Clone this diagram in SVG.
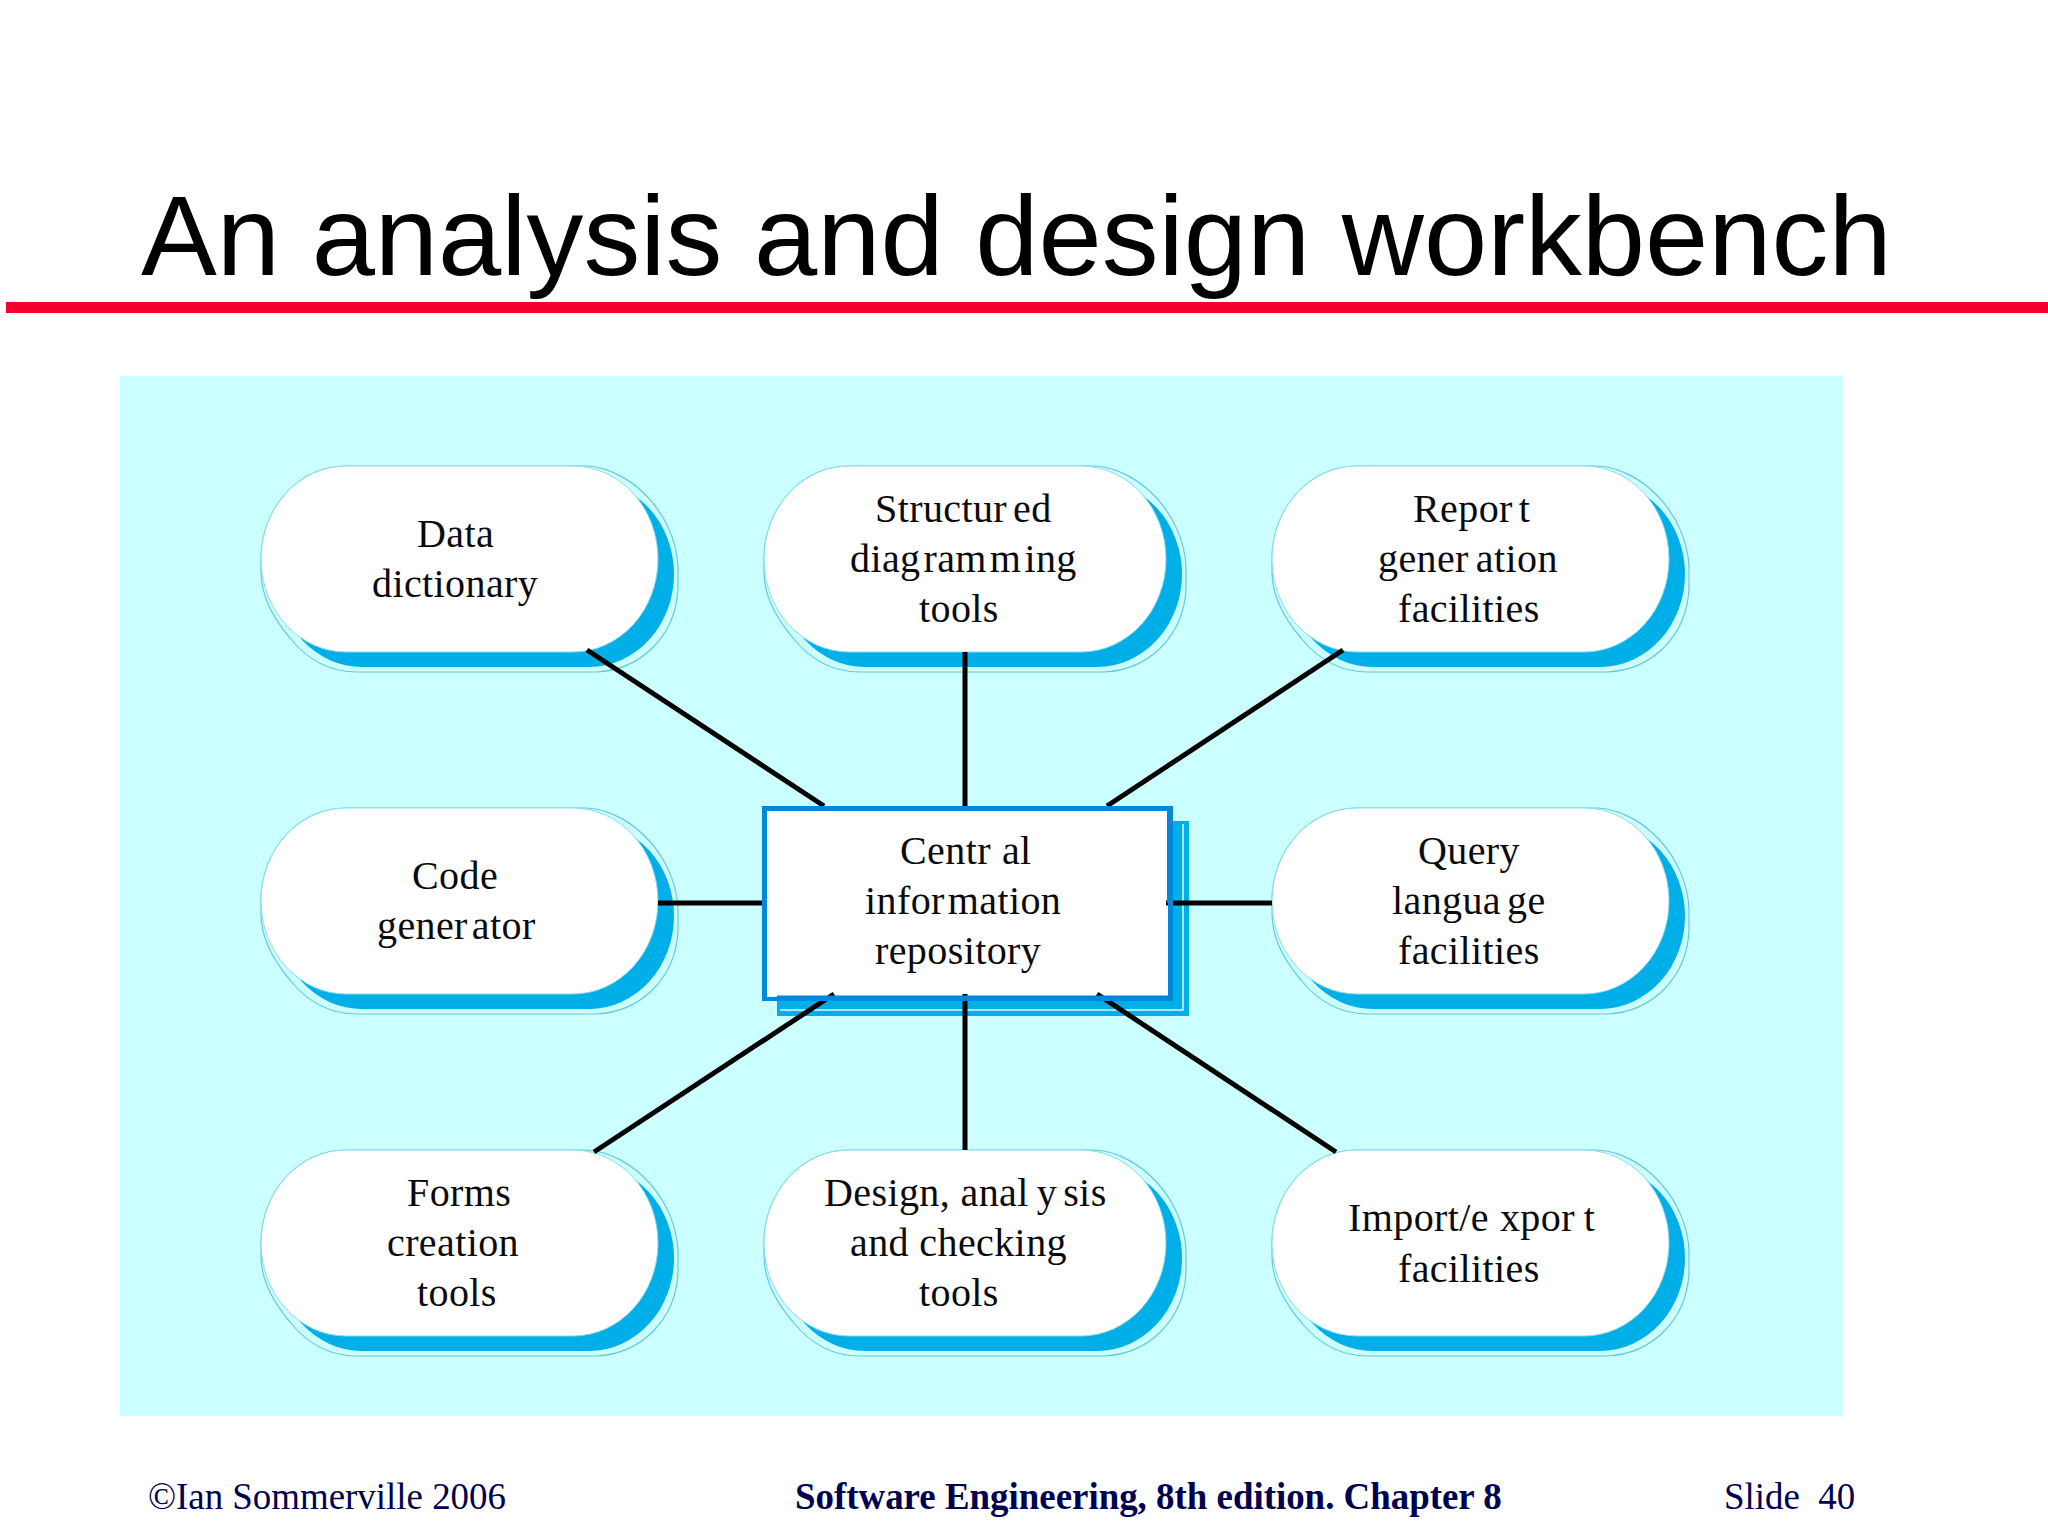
<svg xmlns="http://www.w3.org/2000/svg" xmlns:xlink="http://www.w3.org/1999/xlink" width="2048" height="1536" viewBox="0 0 2048 1536">
<style>
.t{font-family:"Liberation Serif","Times New Roman",serif;font-size:40px;letter-spacing:.4px;fill:#0a0a0a}
.title{font-family:"Liberation Sans",Arial,sans-serif;font-size:113.7px;fill:#000}
.foot{font-family:"Liberation Serif","Times New Roman",serif;font-size:36.9px;fill:#000050}
.hull{fill:#ccffff;stroke:#66c8e0;stroke-width:1.2}
.sh{fill:#00aee8}
.wh{fill:#fff;stroke:#8adcec;stroke-width:1}
.conn{stroke:#000;stroke-width:5;fill:none}
</style>
<defs>
<g id="pillA">
<path class="hull" d="M85,0H326C372,3 415,50 417,101V122C415,170 380,204 335,206H96C66,206 45,192 29,172C12,152 0,130 0,106V93C0,42 38,0 85,0Z"/>
<rect class="sh" x="16" y="15" width="397" height="186" rx="85" ry="93"/>
<rect class="wh" x="0" y="0" width="397" height="186" rx="85" ry="93"/>
</g>
<g id="pillB">
<path class="hull" d="M85,0H331C377,3 420,50 422,101V122C420,170 385,204 340,206H96C66,206 45,192 29,172C12,152 0,130 0,106V93C0,42 38,0 85,0Z"/>
<rect class="sh" x="16" y="15" width="402" height="186" rx="85" ry="93"/>
<rect class="wh" x="0" y="0" width="402" height="186" rx="85" ry="93"/>
</g>
</defs>
<rect width="2048" height="1536" fill="#fff"/>
<text class="title" x="141" y="275">An analysis and design workbench</text>
<rect id="rule" x="6" y="302" width="2042" height="11" fill="#f2002e"/>
<rect id="panel" x="120" y="376" width="1723" height="1040" fill="#ccffff"/>

<g id="node-data-dictionary"><use href="#pillA" x="261" y="466"/>
<text class="t" x="417" y="547">Data</text><text class="t" x="372" y="597">dictionary</text></g>
<g id="node-structured"><use href="#pillB" x="764" y="466"/>
<text class="t" x="875" y="522">Structur<tspan dx="6">ed</tspan></text><text class="t" x="850" y="572">diag<tspan dx="3">ram</tspan><tspan dx="3">m</tspan><tspan dx="3">ing</tspan></text><text class="t" x="919" y="622" letter-spacing="0">tools</text></g>
<g id="node-report"><use href="#pillA" x="1272" y="466"/>
<text class="t" x="1413" y="522">Repor<tspan dx="6">t</tspan></text><text class="t" x="1378" y="572">gener<tspan dx="7">ation</tspan></text><text class="t" x="1398" y="622">facilities</text></g>
<g id="node-code"><use href="#pillA" x="261" y="808"/>
<text class="t" x="412" y="889" letter-spacing="-.5">Code</text><text class="t" x="377" y="939">gener<tspan dx="4">ator</tspan></text></g>
<g id="node-query"><use href="#pillA" x="1272" y="808"/>
<text class="t" x="1418" y="864" letter-spacing="1">Query</text><text class="t" x="1392" y="914">langua<tspan dx="6">ge</tspan></text><text class="t" x="1398" y="964">facilities</text></g>
<g id="node-forms"><use href="#pillA" x="261" y="1150"/>
<text class="t" x="407" y="1206" letter-spacing="-1">Form<tspan dx="0">s</tspan></text><text class="t" x="387" y="1256" letter-spacing="1.4">creation</text><text class="t" x="417" y="1306" letter-spacing="-.3">tools</text></g>
<g id="node-design"><use href="#pillB" x="764" y="1150"/>
<text class="t" x="824" y="1206">Design, anal<tspan dx="8">y</tspan><tspan dx="6">sis</tspan></text><text class="t" x="850" y="1256">and checking</text><text class="t" x="919" y="1306" letter-spacing="-.2">tools</text></g>
<g id="node-import"><use href="#pillA" x="1272" y="1150"/>
<text class="t" x="1348" y="1231">Import/e<tspan dx="11">xpor</tspan><tspan dx="9">t</tspan></text><text class="t" x="1398" y="1282">facilities</text></g>

<g id="node-central">
<rect x="777" y="821" width="412" height="195" fill="#00aee8"/>
<path d="M780,1010H1183V824" fill="none" stroke="#d8fbff" stroke-width="1.5"/>
<rect x="764" y="808" width="405" height="188" fill="#fff"/>
<text class="t" x="900" y="864">Centr<tspan dx="11">al</tspan></text><text class="t" x="865" y="914">infor<tspan dx="3">mation</tspan></text><text class="t" x="875" y="964">repository</text>
</g>
<g id="connectors">
<line class="conn" x1="587" y1="650" x2="824" y2="806"/>
<line class="conn" x1="965" y1="652" x2="965" y2="806"/>
<line class="conn" x1="1343" y1="650" x2="1107" y2="806"/>
<line class="conn" x1="658" y1="903" x2="762" y2="903"/>
<line class="conn" x1="1166" y1="903" x2="1272" y2="903"/>
<line class="conn" x1="834" y1="994" x2="594" y2="1152"/>
<line class="conn" x1="965" y1="994" x2="965" y2="1150"/>
<line class="conn" x1="1097" y1="994" x2="1336" y2="1152"/>
</g>
<path id="central-frame" fill-rule="evenodd" fill="#0088dc" d="M762,806H1173V1001H762ZM767,811V997H777V995.500H1168V903H1167V811Z"/>
<text class="foot" x="148" y="1509">©Ian Sommerville 2006</text>
<text class="foot" x="795" y="1509" font-weight="bold">Software Engineering, 8th edition. Chapter 8</text>
<text class="foot" x="1724" y="1509" xml:space="preserve">Slide  40</text>
</svg>
